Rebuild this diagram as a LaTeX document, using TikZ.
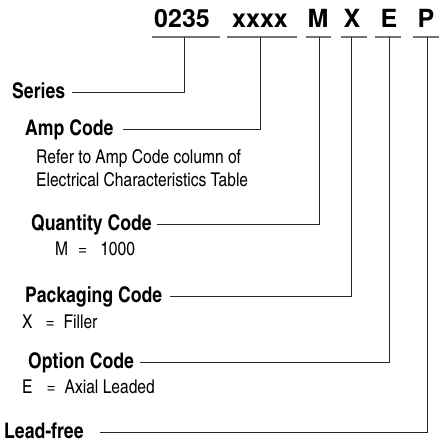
\documentclass[tikz,border=0pt]{standalone}
\usepackage{fontspec}
\setmainfont{texgyreheros-regular.otf}
\newfontfamily\codefont{texgyreheros-bold.otf}
\newfontfamily\labfont{texgyreheroscn-bold.otf}
\newfontfamily\txtfont{texgyreheroscn-regular.otf}
\begin{document}
\begin{tikzpicture}[x=1pt,y=-1pt,
  code/.style={anchor=base,inner sep=0pt,font=\codefont\fontsize{25}{28}\selectfont},
  lab/.style={anchor=base west,inner sep=0pt,font=\labfont\fontsize{21.5}{25}\selectfont},
  txt/.style={anchor=base west,inner sep=0pt,font=\txtfont\fontsize{19}{22}\selectfont},
  uline/.style={draw=black!55,line width=1.6pt},
  conn/.style={draw=black!85,line width=0.9pt}]
\useasboundingbox (0,0) rectangle (440,445);
% codes
\node[code] (c1) at (182,27.5) {0235};
\node[code] (c2) at (260,27.5) {xxxx};
\node[code] (c3) at (318,27.5) {M};
\node[code] (c4) at (352,27.5) {X};
\node[code] (c5) at (389,27.5) {E};
\node[code] (c6) at (426,27.5) {P};
% underlines
\draw[uline] (152,37) -- (220,37);
\draw[uline] (227,37) -- (297,37);
\draw[uline] (306,37) -- (331,37);
\draw[uline] (341,37) -- (367,37);
\draw[uline] (375,37) -- (401,37);
\draw[uline] (413,37) -- (439,37);
\coordinate (u1) at (184,37);
\coordinate (u2) at (260,37);
\coordinate (u3) at (319,37);
\coordinate (u4) at (351,37);
\coordinate (u5) at (389,37);
\coordinate (u6) at (427,37);
% labels
\node[lab] (series) at (12,98) {Series};
\node[lab] (amp) at (25,135) {Amp Code};
\node[txt] (ampt1) at (36,163) {Refer to Amp Code column of};
\node[txt] (ampt2) at (36,186) {Electrical Characteristics Table};
\node[lab] (qty) at (31,230) {Quantity Code};
\node[txt] (qtyt) at (55,255) {M\hspace{10pt}=\hspace{13pt}1000};
\node[lab] (pack) at (25,302) {Packaging Code};
\node[txt] (packt) at (22,328) {X\hspace{13pt}=\hspace{9pt}Filler};
\node[lab] (opt) at (28,368) {Option Code};
\node[txt] (optt) at (22,393) {E\hspace{14pt}=\hspace{9pt}Axial Leaded};
\node[lab] (lead) at (4,438) {Lead-free};
% connector starts
\coordinate (s1) at (72,92);
\coordinate (s2) at (123,129);
\coordinate (s3) at (157,224);
\coordinate (s4) at (170,296);
\coordinate (s5) at (140,362);
\coordinate (s6) at (100,432);
\draw[conn] (s1) -| (u1);
\draw[conn] (s2) -| (u2);
\draw[conn] (s3) -| (u3);
\draw[conn] (s4) -| (u4);
\draw[conn] (s5) -| (u5);
\draw[conn] (s6) -| (u6);
\end{tikzpicture}
\end{document}
